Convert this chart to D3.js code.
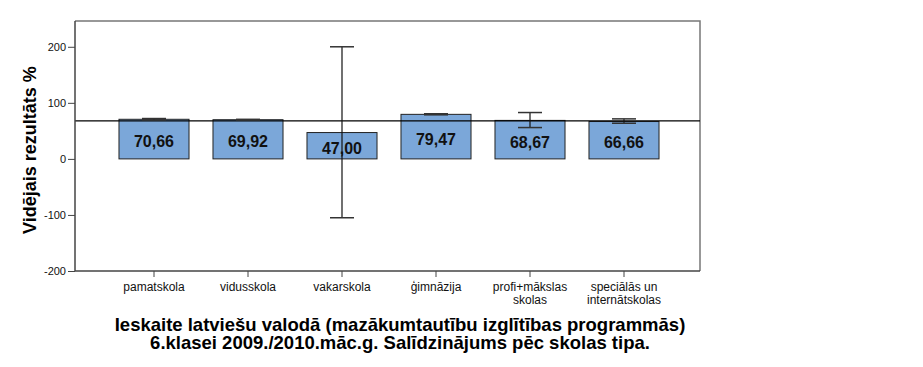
<!DOCTYPE html>
<html>
<head>
<meta charset="utf-8">
<script src="https://cdn.jsdelivr.net/npm/d3@7"></script>
<style>
  body { margin: 0; background: #fff; }
  svg { display: block; font-family: Arial, "Liberation Sans", sans-serif; }
</style>
</head>
<body>
<script>
// school types (some labels wrap onto two lines)
var categories = ["pamatskola", "vidusskola", "vakarskola", "ģimnāzija", "profi+mākslas skolas", "speciālās un internātskolas"];
var labelLines = [["pamatskola"], ["vidusskola"], ["vakarskola"], ["ģimnāzija"], ["profi+mākslas", "skolas"], ["speciālās un", "internātskolas"]];
var means = [70.66, 69.92, 47.00, 79.47, 68.67, 66.66];
var errLow = [69.4, 69.2, -105, 78.6, 55.9, 63.6];
var errHigh = [72.0, 70.6, 200, 80.5, 82.7, 71.4];
var overallMean = 67.9;
var yTicks = [-200, -100, 0, 100, 200];
var yTitle = "Vidējais rezultāts %";
var title = ["Ieskaite latviešu valodā (mazākumtautību izglītības programmās)", "6.klasei 2009./2010.māc.g. Salīdzinājums pēc skolas tipa."];

var W = 923, H = 367;
var plotL = 75, plotR = 700, plotT = 21, plotB = 271;

var svg = d3.select("body").append("svg")
    .attr("width", W)
    .attr("height", H);

var x = d3.scaleBand()
    .domain(categories)
    .range([107, 671])
    .paddingInner(0.255)
    .paddingOuter(0.1275);

var y = d3.scaleLinear()
    .domain([-200, 246])
    .range([plotB, plotT]);

// frame (top + right lighter)
svg.append("path")
    .attr("d", "M" + plotL + "," + plotT + "H" + plotR + "V" + plotB)
    .attr("fill", "none")
    .attr("stroke", "#777")
    .attr("stroke-width", 1.5);

// bars
svg.selectAll(".bar")
    .data(means)
  .enter().append("rect")
    .attr("class", "bar")
    .attr("x", function(d, i) { return x(categories[i]); })
    .attr("y", function(d) { return y(d); })
    .attr("width", x.bandwidth())
    .attr("height", function(d) { return y(0) - y(d); })
    .attr("fill", "#7ba7d9")
    .attr("stroke", "#222")
    .attr("stroke-width", 1);

// overall mean reference line
svg.append("line")
    .attr("x1", plotL).attr("x2", plotR)
    .attr("y1", y(overallMean)).attr("y2", y(overallMean))
    .attr("stroke", "#000")
    .attr("stroke-width", 1.2);

// value labels
svg.selectAll(".val")
    .data(means)
  .enter().append("text")
    .attr("class", "val")
    .attr("x", function(d, i) { return x(categories[i]) + x.bandwidth() / 2; })
    .attr("y", function(d) { return (y(d) + y(0)) / 2 + 8; })
    .attr("text-anchor", "middle")
    .style("font-size", "16px")
    .style("font-weight", "bold")
    .attr("fill", "#111")
    .text(function(d) { return d.toFixed(2).replace(".", ","); });

// error bars
var eb = svg.selectAll(".err")
    .data(means)
  .enter().append("g")
    .attr("class", "err")
    .attr("transform", function(d, i) { return "translate(" + (x(categories[i]) + x.bandwidth() / 2) + ",0)"; });
eb.append("line")
    .attr("y1", function(d, i) { return y(errLow[i]); })
    .attr("y2", function(d, i) { return y(errHigh[i]); })
    .attr("stroke", "#111").attr("stroke-width", 1.2);
eb.append("line")
    .attr("x1", -12).attr("x2", 12)
    .attr("y1", function(d, i) { return y(errLow[i]); })
    .attr("y2", function(d, i) { return y(errLow[i]); })
    .attr("stroke", "#333").attr("stroke-width", 1.5);
eb.append("line")
    .attr("x1", -12).attr("x2", 12)
    .attr("y1", function(d, i) { return y(errHigh[i]); })
    .attr("y2", function(d, i) { return y(errHigh[i]); })
    .attr("stroke", "#333").attr("stroke-width", 1.5);

// y axis
var yAxis = svg.append("g")
    .attr("transform", "translate(" + plotL + ",0)")
    .call(d3.axisLeft(y).tickValues(yTicks).tickSize(7).tickPadding(2)
      .tickFormat(function(d) { return String(d); }));
yAxis.select(".domain").attr("d", "M0," + plotT + "V" + plotB).attr("stroke", "#444").attr("stroke-width", 1.5);
yAxis.selectAll(".tick line").attr("stroke", "#444");
yAxis.selectAll("text").style("font-size", "11px").style("font-family", "Arial, 'Liberation Sans', sans-serif").attr("fill", "#111");

// x axis
var xAxis = svg.append("g")
    .attr("transform", "translate(0," + plotB + ")")
    .call(d3.axisBottom(x).tickSize(6).tickFormat(""));
xAxis.select(".domain").attr("d", "M" + plotL + ",0H" + plotR).attr("stroke", "#444").attr("stroke-width", 1.5);
xAxis.selectAll(".tick line").attr("stroke", "#444");
xAxis.selectAll(".tick").each(function(d, i) {
  var t = d3.select(this).append("text")
      .attr("fill", "#111")
      .attr("text-anchor", "middle")
      .style("font-size", "12px")
      .style("font-family", "Arial, 'Liberation Sans', sans-serif");
  labelLines[i].forEach(function(s, k) {
    t.append("tspan").attr("x", 0).attr("y", 20 + k * 13).text(s);
  });
});

// y title
svg.append("text")
    .attr("transform", "translate(36," + 150 + ") rotate(-90)")
    .attr("text-anchor", "middle")
    .style("font-size", "18px")
    .style("font-weight", "bold")
    .text(yTitle);

// chart title
svg.selectAll(".title")
    .data(title)
  .enter().append("text")
    .attr("class", "title")
    .attr("x", 400)
    .attr("y", function(d, i) { return 331 + i * 18; })
    .attr("text-anchor", "middle")
    .style("font-size", "18.5px")
    .style("font-weight", "bold")
    .text(function(d) { return d; });
</script>
</body>
</html>
